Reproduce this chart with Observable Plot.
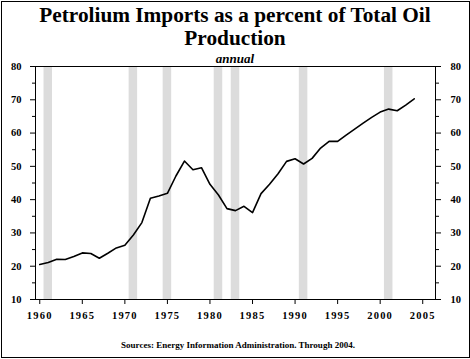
<!DOCTYPE html>
<html>
<head>
<meta charset="utf-8">
<script src="https://cdn.jsdelivr.net/npm/d3@7"></script>
<script src="https://cdn.jsdelivr.net/npm/@observablehq/plot@0.6"></script>
<style>
  body { margin: 0; background: #fff; }
  #wrap { position: relative; width: 470px; height: 359px; overflow: hidden; font-family: "Liberation Serif", "Times New Roman", serif; color: #000; }
  #frame { position: absolute; left: 1px; top: 1px; width: 469px; height: 357px; box-sizing: border-box; border: 1px solid #000; }
  #title { position: absolute; left: 0; top: 4px; width: 470px; text-align: center; font-weight: bold; font-size: 21.3px; line-height: 22.5px; }
  #sub { position: absolute; left: 0; top: 52px; width: 470px; text-align: center; font-weight: bold; font-style: italic; font-size: 13px; line-height: 13px; }
  #chart { position: absolute; left: 0; top: 56px; }
  #src { position: absolute; left: 0; top: 341px; width: 476px; text-align: center; font-weight: bold; font-size: 9px; line-height: 9px; }
  #chart svg, #chart svg text { font-family: "Liberation Serif", "Times New Roman", serif !important; font-weight: bold; font-size: 10.5px; }
  #chart svg [aria-label="x-axis tick label"] text { letter-spacing: 1.2px; }
</style>
</head>
<body>
<div id="wrap">
  <div id="frame"></div>
  <div id="title">Petrolium Imports as a percent of Total Oil<br>Production</div>
  <div id="sub">annual</div>
  <div id="chart"></div>
  <div id="src">Sources: Energy Information Administration. Through 2004.</div>
</div>
<script>
const years = [1960,1961,1962,1963,1964,1965,1966,1967,1968,1969,1970,1971,1972,1973,1974,1975,1976,1977,1978,1979,1980,1981,1982,1983,1984,1985,1986,1987,1988,1989,1990,1991,1992,1993,1994,1995,1996,1997,1998,1999,2000,2001,2002,2003,2004];
const importsPct = [20.5,21.1,22.1,22.0,22.9,24.0,23.8,22.4,23.9,25.5,26.3,29.4,33.1,40.4,41.1,41.9,47.1,51.6,49.0,49.6,44.6,41.4,37.3,36.7,38.0,36.1,41.8,44.6,47.8,51.5,52.3,50.7,52.4,55.5,57.5,57.5,59.4,61.2,63.0,64.7,66.3,67.2,66.7,68.4,70.3];
const recessionYears = [1961,1971,1975,1981,1983,1991,2001];
const xTicks = [1960,1965,1970,1975,1980,1985,1990,1995,2000,2005];
const yTicks = [10,20,30,40,50,60,70,80];
const yMinorTicks = [15,25,35,45,55,65,75];

const data = years.map((y, i) => ({year: y, value: importsPct[i]}));

const chart = Plot.plot({
  width: 470,
  height: 274,
  marginTop: 10,
  marginBottom: 31,
  marginLeft: 35,
  marginRight: 35,
  style: {fontFamily: "Liberation Serif, serif", fontSize: "10.5px", fontWeight: "bold", background: "transparent", color: "#000"},
  x: {domain: [1959.5, 2006.5]},
  y: {domain: [10, 80]},
  marks: [
    Plot.rect(recessionYears, {x1: d => d - 0.5, x2: d => d + 0.5, fill: "#dcdcdc"}),
    Plot.line(data, {x: "year", y: "value", stroke: "#000", strokeWidth: 1.6}),
    Plot.frame({stroke: "#000"}),
    Plot.axisX({ticks: xTicks, tickSize: 5, tickPadding: 7, tickFormat: d => String(d), label: null}),
    Plot.axisY({anchor: "left", ticks: yTicks, tickSize: 5, tickPadding: 9, label: null}),
    Plot.axisY({anchor: "left", ticks: yMinorTicks, tickSize: 3, tickFormat: () => "", label: null}),
    Plot.axisY({anchor: "right", ticks: yTicks, tickSize: 5, tickPadding: 10, label: null}),
    Plot.axisY({anchor: "right", ticks: yMinorTicks, tickSize: 3, tickFormat: () => "", label: null})
  ]
});
document.getElementById("chart").appendChild(chart);
</script>
</body>
</html>
